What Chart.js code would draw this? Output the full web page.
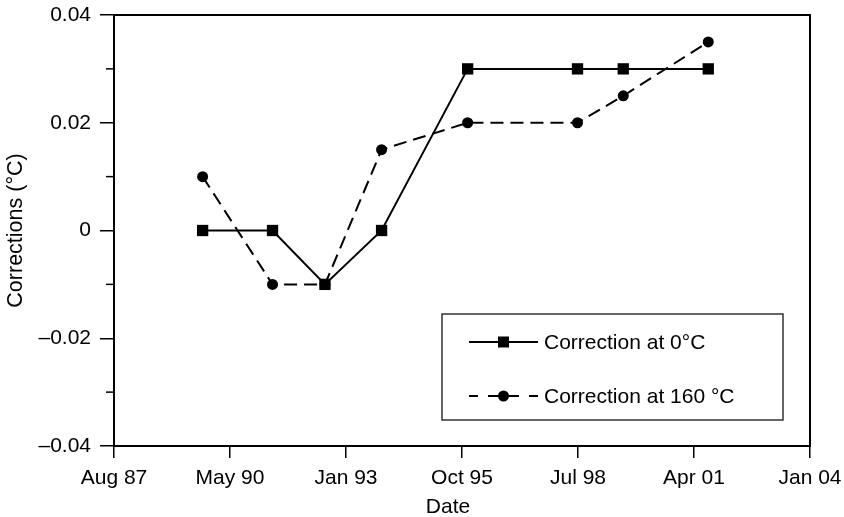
<!DOCTYPE html>
<html>
<head>
<meta charset="utf-8">
<script src="https://cdn.jsdelivr.net/npm/chart.js@4/dist/chart.umd.min.js"></script>
<style>
  html, body { margin: 0; padding: 0; background: #fff; }
  #wrap { width: 844px; height: 517px; }
</style>
</head>
<body>
<div id="wrap"><canvas id="c" width="844" height="517"></canvas></div>
<script>
// Calibration dates and the corrections found at each
const surveyDates = ['1989-09-03', '1991-04-28', '1992-07-23', '1993-11-23',
                     '1995-12-04', '1998-07-08', '1999-08-06', '2001-08-08'];
const correctionAt0 = [0, 0, -0.01, 0, 0.03, 0.03, 0.03, 0.03];
const correctionAt160 = [0.01, -0.01, -0.01, 0.015, 0.02, 0.02, 0.025, 0.035];

// Date axis: evenly spaced labelled ticks between the two end dates
const dateTickLabels = ['Aug 87', 'May 90', 'Jan 93', 'Oct 95', 'Jul 98', 'Apr 01', 'Jan 04'];
const dateAxisStart = '1987-08-01';
const dateAxisEnd = '2004-01-01';

// Correction axis
const yMajorTicks = [-0.04, -0.02, 0, 0.02, 0.04];
const yMinorTicks = [-0.03, -0.01, 0.01, 0.03];

const seriesLabels = ['Correction at 0\u00b0C', 'Correction at 160 \u00b0C'];
const xTitle = 'Date';
const yTitle = 'Corrections (\u00b0C)';

function decimalYear(s) {
  const d = new Date(s + 'T00:00:00Z');
  const y = d.getUTCFullYear();
  const start = Date.UTC(y, 0, 1), next = Date.UTC(y + 1, 0, 1);
  return y + (d.getTime() - start) / (next - start);
}

const xMin = decimalYear(dateAxisStart);
const xMax = decimalYear(dateAxisEnd);
const FONT = '"Liberation Sans", Arial, Helvetica, sans-serif';
const DASH = [13, 7];

function pts(vals) {
  return vals.map((v, i) => ({ x: decimalYear(surveyDates[i]), y: v }));
}

function fmtY(v) {
  if (Math.abs(v) < 1e-9) return '0';
  const s = Math.abs(v).toFixed(2);
  return v < 0 ? '\u2013' + s : s;
}

// Fixed axis box size; edge labels may overhang without shrinking the plot
function fixedBox(size, prop) {
  return scale => {
    scale[prop] = size;
    scale.paddingTop = scale.paddingBottom = scale.paddingLeft = scale.paddingRight = 0;
  };
}

// Top and right edges of the plot frame, the short minor ticks on the y axis,
// and the date axis title set a little left of centre
const framePlugin = {
  id: 'frame',
  afterDraw(chart) {
    const { ctx, chartArea: a, scales } = chart;
    ctx.save();
    ctx.strokeStyle = '#000';
    ctx.lineWidth = 2;
    ctx.beginPath();
    ctx.moveTo(a.left - 1, a.top);
    ctx.lineTo(a.right, a.top);
    ctx.lineTo(a.right, a.bottom + 1);
    ctx.stroke();
    ctx.lineWidth = 1.5;
    yMinorTicks.forEach(v => {
      const y = scales.y.getPixelForValue(v);
      ctx.beginPath();
      ctx.moveTo(a.left - 8, y);
      ctx.lineTo(a.left, y);
      ctx.stroke();
    });
    ctx.fillStyle = '#000';
    ctx.font = '21px ' + FONT;
    ctx.textAlign = 'center';
    ctx.textBaseline = 'alphabetic';
    ctx.fillText(xTitle, (a.left + a.right) / 2 - 14, a.bottom + 67);
    ctx.restore();
  }
};

// Boxed legend inside the lower right of the plot
const boxLegendPlugin = {
  id: 'boxLegend',
  afterDraw(chart) {
    const { ctx, chartArea: a } = chart;
    const bx = a.left + 328, bw = 341, bh = 106, by = a.bottom - 26 - bh;
    ctx.save();
    ctx.fillStyle = '#fff';
    ctx.fillRect(bx, by, bw, bh);
    ctx.strokeStyle = '#333';
    ctx.lineWidth = 1.5;
    ctx.strokeRect(bx, by, bw, bh);
    const rows = [by + 28, by + 82];
    chart.data.datasets.forEach((ds, i) => {
      const y = rows[i];
      const x0 = bx + 27, x1 = bx + 96, xm = (x0 + x1) / 2;
      ctx.strokeStyle = '#000';
      ctx.lineWidth = 2;
      ctx.beginPath();
      if (ds.borderDash) {
        ctx.moveTo(x0, y); ctx.lineTo(x0 + 9, y);
        ctx.moveTo(x0 + 19, y); ctx.lineTo(x1 - 19, y);
        ctx.moveTo(x1 - 9, y); ctx.lineTo(x1, y);
      } else {
        ctx.moveTo(x0, y); ctx.lineTo(x1, y);
      }
      ctx.stroke();
      ctx.fillStyle = '#000';
      if (ds.pointStyle === 'rect') {
        ctx.fillRect(xm - 5.5, y - 5.5, 11, 11);
      } else {
        ctx.beginPath();
        ctx.arc(xm, y, 5.5, 0, Math.PI * 2);
        ctx.fill();
      }
      ctx.font = '21px ' + FONT;
      ctx.textBaseline = 'middle';
      ctx.textAlign = 'left';
      ctx.fillText(ds.label, x1 + 6, y + 1);
    });
    ctx.restore();
  }
};

new Chart(document.getElementById('c'), {
  type: 'line',
  data: {
    datasets: [
      {
        label: seriesLabels[0],
        data: pts(correctionAt0),
        borderColor: '#000',
        borderWidth: 2,
        pointStyle: 'rect',
        pointRadius: 8,
        pointBorderWidth: 0,
        pointBackgroundColor: '#000',
        fill: false,
        tension: 0
      },
      {
        label: seriesLabels[1],
        data: pts(correctionAt160),
        borderColor: '#000',
        borderWidth: 2,
        borderDash: DASH,
        pointStyle: 'circle',
        pointRadius: 5.5,
        pointBorderWidth: 0,
        pointBackgroundColor: '#000',
        fill: false,
        tension: 0
      }
    ]
  },
  options: {
    responsive: false,
    animation: false,
    events: [],
    layout: { padding: { top: 15, right: 34, bottom: 0, left: 0 } },
    plugins: { legend: { display: false }, tooltip: { enabled: false } },
    scales: {
      x: {
        type: 'linear',
        min: xMin,
        max: xMax,
        afterBuildTicks(scale) {
          const n = dateTickLabels.length;
          scale.ticks = dateTickLabels.map((_, i) => ({ value: xMin + (xMax - xMin) * i / (n - 1) }));
        },
        afterFit: fixedBox(71, 'height'),
        ticks: {
          autoSkip: false,
          maxRotation: 0,
          padding: 8,
          color: '#000',
          font: { family: FONT, size: 21 },
          callback: (v, i) => dateTickLabels[i]
        },
        grid: {
          drawOnChartArea: false,
          tickLength: 12,
          tickColor: '#000',
          lineWidth: 1.5
        },
        border: { display: true, color: '#000', width: 2 },
        title: { display: false }
      },
      y: {
        min: -0.04,
        max: 0.04,
        afterBuildTicks(scale) {
          scale.ticks = yMajorTicks.map(v => ({ value: v }));
        },
        afterFit: fixedBox(114, 'width'),
        ticks: {
          padding: 9,
          color: '#000',
          font: { family: FONT, size: 21 },
          callback: v => fmtY(v)
        },
        grid: {
          drawOnChartArea: false,
          tickLength: 14,
          tickColor: '#000',
          lineWidth: 1.5
        },
        border: { display: true, color: '#000', width: 2 },
        title: {
          display: true,
          text: yTitle,
          color: '#000',
          font: { family: FONT, size: 21.5 },
          padding: { top: 3, bottom: 0 }
        }
      }
    }
  },
  plugins: [framePlugin, boxLegendPlugin]
});
</script>
</body>
</html>
